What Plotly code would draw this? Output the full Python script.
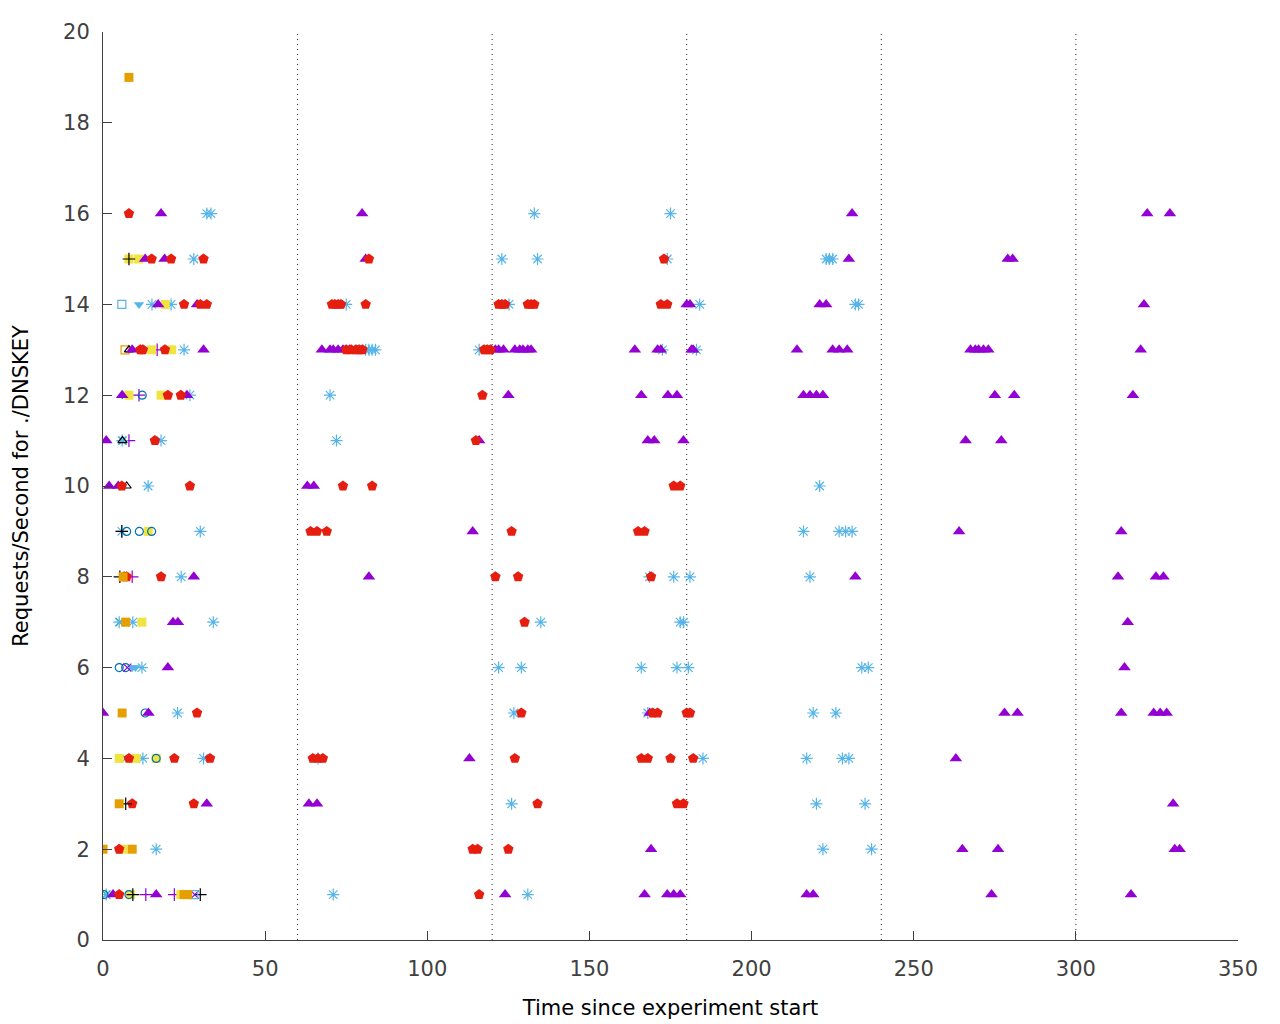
import plotly.graph_objects as go

# ---- data (x = seconds since experiment start, y = requests/second) ----
minute_marks = [60, 120, 180, 240, 300]

purple_tri_x = [17.9, 79.9, 231, 322, 329,
                13, 19, 81, 230, 279, 280.5,
                17, 29, 180, 181, 221, 223, 321,
                9, 31, 67.5, 70, 71, 72.5, 74, 76, 121, 122, 123.5, 127, 128.5, 129.5, 131, 132,
                164, 171, 172, 181.5, 182, 214, 225, 227, 229.5, 267.5, 269, 270, 271.5, 273, 320,
                5.9, 25.9, 125, 166, 174.2, 177, 216, 218, 220, 222, 275, 281, 317.6,
                1, 116, 168, 170, 179, 266, 277,
                1.9, 4.7, 63, 65,
                114, 264, 314,
                28, 82, 232, 313, 324.7, 327,
                21.6, 23.1, 316,
                20, 315,
                0, 14, 168.6, 278, 282, 314, 324, 326, 328,
                113, 263,
                32, 63.5, 66, 330,
                169, 265, 276, 330.5, 332,
                3.1, 16.4, 124, 167, 174, 176, 178, 217, 219, 274, 317]
purple_tri_y = [16] * 5 + [15] * 6 + [14] * 7 + [13] * 31 + [12] * 13 + [11] * 7 + [10] * 4 + \
               [9] * 3 + [8] * 6 + [7] * 3 + [6] * 2 + [5] * 9 + [4] * 2 + [3] * 4 + [2] * 5 + [1] * 11

red_pent_x = [8,
              15, 21, 31, 82, 173,
              25, 30, 32, 70.6, 71.5, 72.5, 73.4, 81, 122, 123, 124, 131, 132, 133, 172, 174,
              11.5, 12.3, 19.1, 75, 76.5, 78, 79, 80, 117.5, 118.5, 119.5,
              20, 24, 117,
              16, 115,
              5.8, 26.8, 74, 83, 176, 178,
              64, 66, 69, 126, 165, 167,
              6.5, 7.3, 17.9, 121, 128, 169,
              130,
              29, 129, 169.5, 171, 180, 181,
              8, 22, 33, 64.7, 66.3, 67.8, 127, 166, 168, 175, 182,
              9, 28, 134, 177, 179,
              5, 114, 115.5, 125,
              5, 116]
red_pent_y = [16] + [15] * 5 + [14] * 16 + [13] * 11 + [12] * 3 + [11] * 2 + [10] * 6 + [9] * 6 + \
             [8] * 6 + [7] + [5] * 6 + [4] * 11 + [3] * 5 + [2] * 4 + [1] * 2

blue_star_x = [32, 33.3, 133, 175,
               28, 123, 134, 174, 223, 224, 225,
               15.1, 21, 75, 125.2, 184, 232, 233,
               25, 81, 82, 83, 84, 116, 172.5, 183,
               26.8, 70,
               5.9, 17.9, 72,
               13.9, 221,
               5.8, 30, 216, 227, 229, 231,
               24.1, 168.5, 176, 181, 218,
               5, 9.2, 34, 135, 178, 179,
               12, 122, 129, 166, 177, 180.5, 234, 236,
               23, 126.7, 168, 219, 226,
               12.3, 31, 66.3, 185, 217, 228, 230,
               126, 220, 235,
               16.4, 222, 237,
               1, 71, 131]
blue_star_y = [16] * 4 + [15] * 7 + [14] * 7 + [13] * 8 + [12] * 2 + [11] * 3 + [10] * 2 + [9] * 6 + \
              [8] * 5 + [7] * 6 + [6] * 8 + [5] * 5 + [4] * 7 + [3] * 3 + [2] * 3 + [1] * 3

orange_sq_x = [8, 6.2, 7, 5.9, 5, 0, 9, 25, 26.1]
orange_sq_y = [19, 8, 7, 5, 3, 2, 2, 1, 1]

yellow_sq_x = [8, 11, 19.2, 15, 21.2, 8, 17.9, 13.9, 12, 5, 10.2, 16.4, 6.2, 8.5, 24]
yellow_sq_y = [15, 15, 14, 13, 13, 12, 12, 9, 7, 4, 4, 4, 2, 1, 1]

blue_circ_x = [12.1, 7.3, 11.2, 15, 5, 7, 13, 16.4, 0.3, 8]
blue_circ_y = [12, 9, 9, 9, 6, 6, 5, 4, 1, 1]

black_plus_x = [8, 5.8, 5.2, 7, 9.2, 30]
black_plus_y = [15, 9, 8, 3, 1, 1]

purple_plus_x = [16.7, 11.1, 8, 9, 13.2, 22]
purple_plus_y = [13, 12, 11, 8, 1, 1]

black_otri_x = [8, 7.3, 6]
black_otri_y = [13, 10, 11]

orange_osq_x = [6.8]
orange_osq_y = [13]

blue_osq_x = [5.8, 28]
blue_osq_y = [14, 1]

blue_dtri_x = [11.1, 9, 10]
blue_dtri_y = [14, 6, 6]

green_x_x = [7, 6, 5.2, 7, 1]
green_x_y = [12, 11, 7, 4, 1]

purple_x_x = [7.5, 28.3]
purple_x_y = [6, 1]

# ---- figure ----
fig = go.Figure()

# minute separators
vx, vy = [], []
for m in minute_marks:
    vx += [m, m, None]
    vy += [0, 20, None]
fig.add_trace(go.Scatter(x=vx, y=vy, mode="lines",
                         line=dict(color="#222222", width=1, dash="1px,4px"),
                         hoverinfo="skip", showlegend=False))

def pts(x, y, symbol, color, size, lw=1.2):
    fig.add_trace(go.Scatter(
        x=x, y=y, mode="markers", showlegend=False,
        marker=dict(symbol=symbol, color=color, size=size,
                    line=dict(color=color, width=lw))))

pts(purple_plus_x, purple_plus_y, "cross-thin-open", "#9400d3", 9)
pts(green_x_x, green_x_y, "x-thin-open", "#009e73", 8)
pts(blue_star_x, blue_star_y, "asterisk-open", "#56b4e9", 10)
pts(orange_osq_x, orange_osq_y, "square-open", "#e69f00", 8)
pts(yellow_sq_x, yellow_sq_y, "square", "#f0e442", 9, 0)
pts(blue_circ_x, blue_circ_y, "circle-open", "#0072b2", 8)
pts(black_otri_x, black_otri_y, "triangle-up-open", "black", 8)
pts(purple_tri_x, purple_tri_y, "triangle-up", "#9400d3", 11, 0)
pts(blue_dtri_x, blue_dtri_y, "triangle-down", "#56b4e9", 9, 0)
pts(red_pent_x, red_pent_y, "pentagon", "#e51e10", 11, 0)
pts(black_plus_x, black_plus_y, "cross-thin-open", "black", 9)
pts(purple_x_x, purple_x_y, "x-thin-open", "#9400d3", 8)
pts(blue_osq_x, blue_osq_y, "square-open", "#56b4e9", 8)
pts(orange_sq_x, orange_sq_y, "square", "#e69f00", 9, 0)

axis_common = dict(
    showgrid=False, zeroline=False, showline=True, linecolor="#404040", linewidth=1,
    ticks="inside", ticklen=9, tickcolor="#404040", tickwidth=1,
    tickfont=dict(family="DejaVu Sans", size=21, color="#404040"),
    mirror=False,
)

fig.update_layout(
    width=1280, height=1024,
    margin=dict(l=95, r=50, t=21, b=92),
    plot_bgcolor="white", paper_bgcolor="white",
    xaxis=dict(range=[0, 350], dtick=50, tick0=0, ticklabelstandoff=10,
               title=dict(text="Time since experiment start",
                          font=dict(family="DejaVu Sans", size=21, color="black"),
                          standoff=20),
               **axis_common),
    yaxis=dict(range=[0, 20], dtick=2, tick0=0, ticklabelstandoff=8,
               title=dict(text="Requests/Second for ./DNSKEY",
                          font=dict(family="DejaVu Sans", size=21, color="black"),
                          standoff=28),
               **axis_common),
)

fig.write_html("out.html")
